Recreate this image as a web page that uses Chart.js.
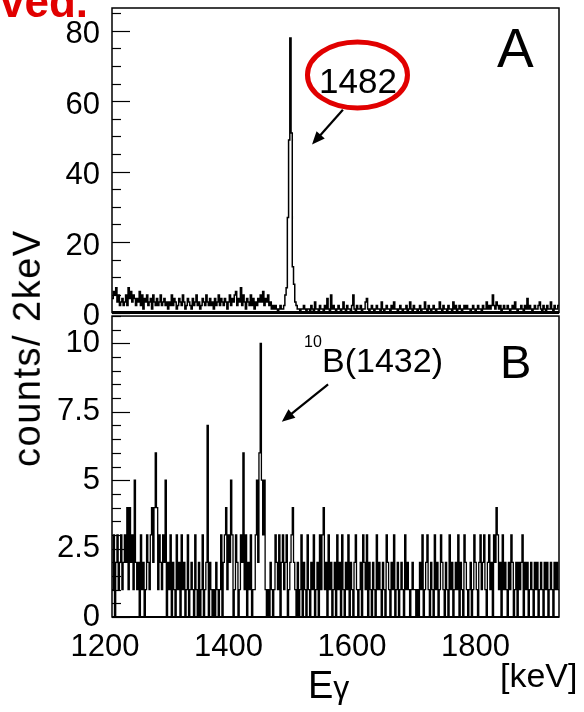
<!DOCTYPE html>
<html><head><meta charset="utf-8">
<script src="https://cdn.jsdelivr.net/npm/chart.js@4.4.1/dist/chart.umd.min.js"></script>
<style>
html,body{margin:0;padding:0;background:#fff;}
#wrap{position:relative;width:584px;height:712px;overflow:hidden;font-family:'Liberation Sans',Arial,sans-serif;}
canvas{position:absolute;left:0;top:0;}
.t{position:absolute;white-space:nowrap;line-height:1;color:#000;}
</style></head><body>
<div id="wrap"><canvas id="c" width="584" height="712"></canvas></div>
<script>
// ---- data (counts per 2 keV bin, starting at 1200 keV) ----
const binStart = 1200;
const binWidth = 2;
const countsA = [
 4,6,5,7,3,5,2,3,4,2, 3,5,2,7,4,6,3,5,4,2, 4,3,6,2,5,1,4,3,5,2, 3,4,1,5,3,2,4,2,3,5,
 2,3,4,2,3,1,3,2,5,2, 4,3,1,2,4,3,2,5,3,1, 2,4,3,2,1,4,2,3,5,2, 3,1,2,4,3,2,5,3,2,4,
 2,3,1,4,2,3,5,2,4,3, 2,4,3,1,3,5,2,4,3,5, 6,2,4,3,7,2,5,3,1,4, 3,2,5,2,4,1,3,2,4,3,
 5,3,6,2,4,3,5,2,3,1, 2,1,2,1,0,1,2,1,1,2,
 5,7,27,49,78,51,13,8,3,
 2,1,1,0,1,1,2,1,0,1,1,
 0,2,1,0,3,1,1,0,2,1, 1,0,2,1,4,1,0,5,1,2, 1,0,1,2,1,0,1,3,1,0, 2,1,1,0,2,5,1,0,2,1,
 1,2,0,1,1,3,4,1,0,1, 2,1,0,1,2,1,1,0,3,1, 0,1,2,1,1,0,2,1,3,1, 1,0,1,2,1,0,1,1,2,0,
 1,3,1,0,2,1,1,0,1,2, 0,1,1,3,1,0,2,1,0,1, 2,1,0,1,1,3,1,0,2,1, 1,0,2,1,1,0,3,1,2,0,
 1,2,1,0,1,2,1,2,1,1, 0,1,2,1,0,1,2,1,1,0, 2,1,1,3,1,2,1,2,5,2, 1,3,2,1,2,0,1,2,1,1,
 2,1,0,1,2,1,3,1,0,1, 1,2,1,0,2,1,4,1,2,1, 0,1,2,1,1,2,3,1,0,2,
 1,0,2,1,1,3,1,0,2,1,1,2
];
const countsB = [
 1,3,0,2,3,1,2,3,1,2, 3,2,4,1,4,2,3,1,5,2, 1,2,0,3,1,2,0,1,3,2, 1,3,4,2,4,6,4,1,3,2,
 1,3,2,5,0,2,1,3,0,2, 1,0,3,1,2,0,3,1,2,0, 1,3,0,1,2,1,0,3,1,0, 2,0,1,3,0,1,2,7,0,2,
 1,0,1,0,2,1,0,1,3,0, 2,3,4,1,3,2,5,3,0,1, 3,2,0,1,3,2,6,1,3,0, 2,1,3,0,1,1,3,5,2,6,
 10,5,3,5,1,0,1,0,2,1, 0,1,3,2,1,3,0,2,3,1, 2,3,0,1,2,3,4,2,1,0, 2,0,1,3,0,2,1,0,3,1,
 0,2,1,3,0,1,2,0,3,1, 3,4,1,2,0,3,1,2,0,1, 2,0,3,1,2,0,3,1,0,2, 1,3,0,2,1,0,2,3,1,0,
 1,2,0,3,2,1,3,0,2,1, 0,2,1,0,3,1,2,1,0,2, 1,0,3,2,1,0,2,1,3,0, 1,2,0,1,2,1,0,3,1,2,
 1,0,1,2,1,1,0,1,0,2, 1,3,0,1,2,3,1,0,2,1, 0,3,1,2,0,1,3,2,1,0, 2,1,0,3,1,2,0,1,2,1,
 3,0,2,1,0,3,2,1,0,1, 2,0,1,3,2,1,0,2,3,1, 2,3,1,0,2,3,1,2,0,3, 2,4,3,1,2,0,3,1,2,1,
 0,2,1,3,2,0,1,2,0,2, 1,2,3,0,2,1,2,0,1,2, 1,0,2,1,2,0,1,2,1,0,
 2,1,2,0,1,2,1,0,2,1,2,1
];
const xTicks = [1200, 1400, 1600, 1800];
const yTicksA = [0, 20, 40, 60, 80];
const yTicksB = [0, 2.5, 5, 7.5, 10];

// ---- build histogram step points from the arrays ----
function toSteps(arr){
  const pts = arr.map((v,i)=>({x: binStart + i*binWidth, y: v}));
  pts.push({x: binStart + arr.length*binWidth, y: arr[arr.length-1]});
  return pts;
}
const xMax = binStart + countsA.length*binWidth;

const FONT = "'Liberation Sans', Arial, sans-serif";
const tickFont = {family: FONT, size: 31};

// annotation anchors in data coordinates
const arrowA = {from:[1574,57.6], to:[1524,47.7]};
const arrowB = {from:[1550,8.5], to:[1475,7.14]};
const ellipseA = {c:[1597.6,67.5], rx:50, ry:33};

function drawArrow(ctx,x1,y1,x2,y2){
  const a = Math.atan2(y2-y1,x2-x1), hl=13, hw=5.5;
  ctx.beginPath(); ctx.moveTo(x1,y1);
  ctx.lineTo(x2-hl*0.7*Math.cos(a), y2-hl*0.7*Math.sin(a)); ctx.stroke();
  ctx.beginPath(); ctx.moveTo(x2,y2);
  ctx.lineTo(x2-hl*Math.cos(a)+hw*Math.sin(a), y2-hl*Math.sin(a)-hw*Math.cos(a));
  ctx.lineTo(x2-hl*Math.cos(a)-hw*Math.sin(a), y2-hl*Math.sin(a)+hw*Math.cos(a));
  ctx.closePath(); ctx.fill();
}

const framePlugin = {
  id:'frame',
  afterDatasetsDraw(chart){
    const {ctx, chartArea:{left,right}} = chart;
    const sx = chart.scales.x, sA = chart.scales.yA, sB = chart.scales.yB;
    const line=(x1,y1,x2,y2)=>{ctx.beginPath();ctx.moveTo(x1,y1);ctx.lineTo(x2,y2);ctx.stroke();};
    ctx.save();
    ctx.strokeStyle='#000'; ctx.fillStyle='#000';
    // panel A frame
    const aTop = sA.top, aBot = sA.getPixelForValue(0);
    ctx.lineWidth=1.5;
    ctx.strokeRect(left, aTop, right-left, aBot-aTop);
    ctx.lineWidth=3; line(left, aBot, right, aBot);
    // panel B frame
    const bTop = sB.getPixelForValue(11), bBot = sB.bottom;
    ctx.lineWidth=1.5;
    ctx.strokeRect(left, bTop, right-left, bBot-bTop);
    ctx.lineWidth=2; line(left, bBot, right, bBot);
    // inner ticks
    ctx.lineWidth=1.2;
    for(let v=0; v<=85; v+=5){
      const y=Math.round(sA.getPixelForValue(v))+0.5;
      line(left, y, left+(v%20===0?18:9), y);
    }
    for(let v=0; v<=11; v+=0.5){
      const y=Math.round(sB.getPixelForValue(v))+0.5;
      line(left, y, left+(v%2.5===0?18:9), y);
    }
    // red ellipse
    ctx.strokeStyle='#e10000'; ctx.lineWidth=5;
    ctx.beginPath();
    ctx.ellipse(sx.getPixelForValue(ellipseA.c[0]), sA.getPixelForValue(ellipseA.c[1]), ellipseA.rx, ellipseA.ry, 0, 0, Math.PI*2);
    ctx.stroke();
    // arrows
    ctx.strokeStyle='#000'; ctx.lineWidth=2.2;
    drawArrow(ctx, sx.getPixelForValue(arrowA.from[0]), sA.getPixelForValue(arrowA.from[1]),
                   sx.getPixelForValue(arrowA.to[0]), sA.getPixelForValue(arrowA.to[1]));
    drawArrow(ctx, sx.getPixelForValue(arrowB.from[0]), sB.getPixelForValue(arrowB.from[1]),
                   sx.getPixelForValue(arrowB.to[0]), sB.getPixelForValue(arrowB.to[1]));
    ctx.restore();
  }
};

const zeroPad = s => { s.paddingTop=0; s.paddingBottom=0; s.paddingLeft=0; s.paddingRight=0; };
const yCommon = (ticksArr, extra) => Object.assign({
  type:'linear', position:'left', stack:'panels', stackWeight:1,
  grid:{display:false, drawTicks:false, tickLength:0}, border:{display:false},
  afterBuildTicks: s => { s.ticks = ticksArr.map(v=>({value:v})); },
  afterFit: s => { s.width = 112; zeroPad(s); },
  ticks:{font:tickFont, color:'#000', padding:12, callback:v=>String(v)}
}, extra);

new Chart(document.getElementById('c'), {
  type:'line',
  data:{datasets:[
    {data: toSteps(countsA), xAxisID:'x', yAxisID:'yA', stepped:true, borderColor:'#000', borderWidth:1.5, pointRadius:0, fill:false},
    {data: toSteps(countsB), xAxisID:'x', yAxisID:'yB', stepped:true, borderColor:'#000', borderWidth:1.3, pointRadius:0, fill:false}
  ]},
  options:{
    responsive:false, animation:false, devicePixelRatio:1,
    layout:{padding:{left:0,right:25,top:8,bottom:0}},
    plugins:{legend:{display:false}, tooltip:{enabled:false}},
    scales:{
      x:{type:'linear', position:'bottom', min:binStart, max:xMax,
         grid:{display:false, drawTicks:false, tickLength:0}, border:{display:false},
         afterBuildTicks: s => { s.ticks = xTicks.map(v=>({value:v})); },
         afterFit: s => { s.height = 95; zeroPad(s); },
         ticks:{font:tickFont, color:'#000', padding:12, labelOffset:-7, maxRotation:0, autoSkip:false, callback:v=>String(v)}},
      yB: yCommon(yTicksB, {min:0, max:11.13}),
      yA: yCommon(yTicksA, {min:0, max:86.5, ticks:{font:tickFont, color:'#000', padding:12, labelOffset:4, callback:v=>String(v)}})
    }
  },
  plugins:[framePlugin]
});

// ---- text labels ----
const wrap = document.getElementById('wrap');
function addText(html, x, baseline, size, extraStyle){
  const d=document.createElement('div');
  d.className='t'; d.innerHTML=html;
  d.style.left=x+'px'; d.style.top=(baseline-0.8465*size)+'px'; d.style.fontSize=size+'px';
  if(extraStyle) d.style.cssText += extraStyle;
  wrap.appendChild(d); return d;
}
addText('A', 497, 68, 55);
addText('B', 500, 378, 47);
addText('1482', 319, 93, 35);
addText('10', 304, 348, 16);
addText('B(1432)', 322, 372, 34);
addText('E<span style="font-size:32px">γ</span>', 308, 698, 38);
addText('[keV]', 500, 687, 34);
const ved = addText('ved.', 0, 17, 44, 'font-weight:bold;color:#e10000;left:auto;right:496px;');
const yt = document.createElement('div');
yt.className='t'; yt.textContent='counts/ 2keV';
yt.style.cssText += 'left:0;top:0;font-size:38px;letter-spacing:1.5px;transform-origin:0 0;transform:translate(7.8px,467px) rotate(-90deg);';
wrap.appendChild(yt);
</script>
</body></html>
